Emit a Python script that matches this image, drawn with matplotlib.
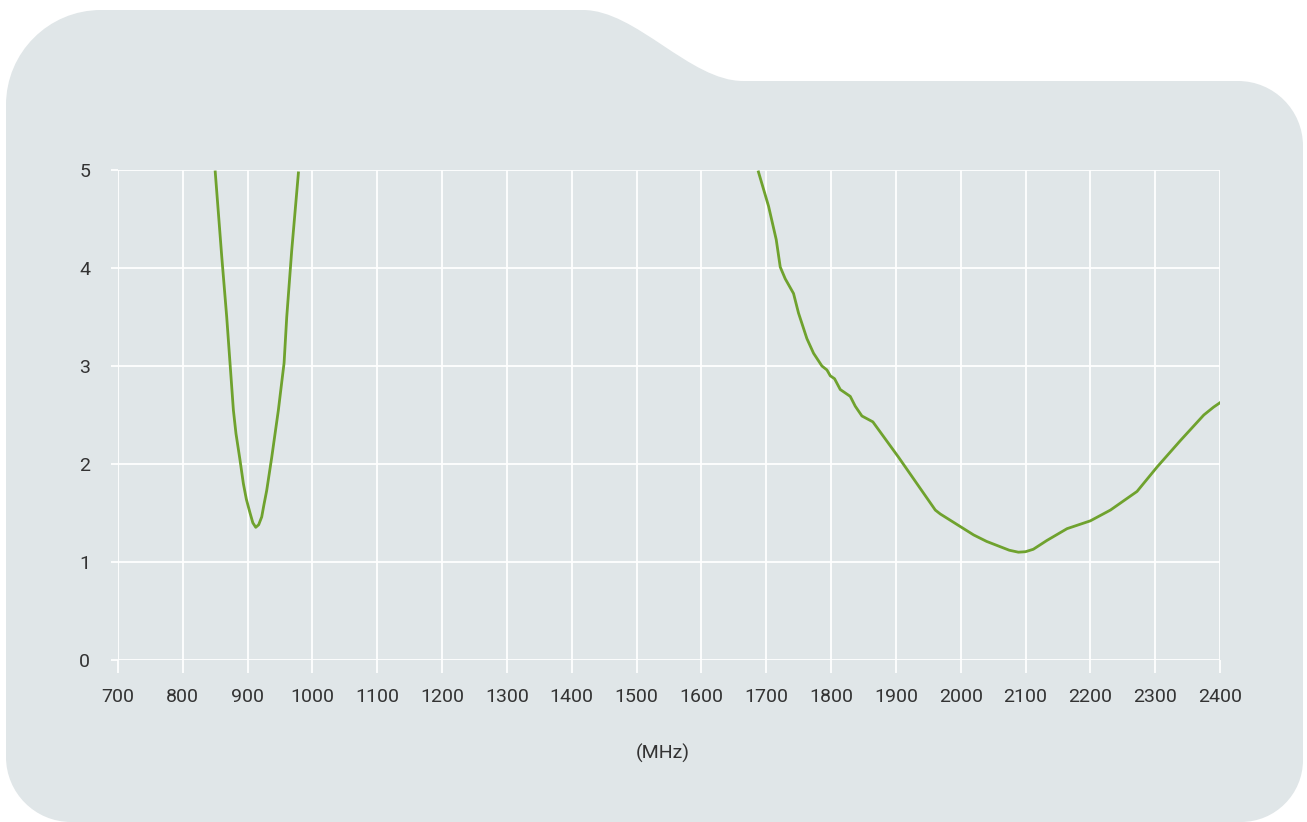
import matplotlib.pyplot as plt
from matplotlib.path import Path
from matplotlib.patches import PathPatch

# band 1 (around 900 MHz)
freq_low = [850, 860, 867.7, 872.8, 878, 882, 888, 893.4, 898, 903.7, 908,
            912.5, 917, 921.7, 925, 929.4, 937.2, 947.4, 953.6, 956.2, 960.3,
            968, 978.3]
vswr_low = [4.98, 4.12, 3.50, 3.03, 2.55, 2.31, 2.05, 1.80, 1.64, 1.50, 1.40,
            1.354, 1.38, 1.46, 1.58, 1.73, 2.07, 2.55, 2.89, 3.03, 3.50,
            4.18, 4.97]

# band 2 (1700-2400 MHz)
freq_high = [1688, 1703.6, 1715.4, 1721.6, 1729.3, 1742.1, 1749.8, 1762.7, 1773,
             1785.9, 1793.6, 1798.8, 1805.4, 1814.2, 1829.6, 1837.3, 1847.6,
             1864.5, 1904, 1960.8, 1968.5, 2020, 2040, 2061, 2075, 2089, 2100,
             2112, 2133, 2164, 2200, 2231, 2272, 2303, 2339, 2375, 2390, 2401]
vswr_high = [4.98, 4.63, 4.29, 4.01, 3.89, 3.74, 3.54, 3.28, 3.13,
             3.00, 2.96, 2.90, 2.87, 2.76, 2.69, 2.59, 2.49,
             2.43, 2.07, 1.53, 1.49, 1.276, 1.21, 1.156, 1.12, 1.10, 1.105,
             1.13, 1.22, 1.34, 1.42, 1.53, 1.72, 1.97, 2.24, 2.50, 2.58, 2.63]

x_ticks = list(range(700, 2401, 100))
y_ticks = [0, 1, 2, 3, 4, 5]

W, H = 1307, 822
BG = "#e0e6e8"
GREEN = "#6fa22e"
TXT = "#333333"

plt.rcParams["font.family"] = ["Roboto", "DejaVu Sans"]

fig = plt.figure(figsize=(W / 100, H / 100), dpi=100, facecolor="white")


def P(x, y):
    return (x / W, 1 - y / H)


# background panel with tab on top
k = 0.5523
verts, codes = [], []


def move(x, y):
    verts.append(P(x, y)); codes.append(Path.MOVETO)


def line(x, y):
    verts.append(P(x, y)); codes.append(Path.LINETO)


def curve(c1, c2, end):
    for p in (c1, c2, end):
        verts.append(P(*p)); codes.append(Path.CURVE4)


move(6, 105)
curve((6, 105 - k * 95), (101 - k * 95, 10), (101, 10))
line(583, 10)
curve((636, 10), (690, 81), (743, 81))
line(1238, 81)
curve((1238 + k * 65, 81), (1303, 146 - k * 65), (1303, 146))
line(1303, 760)
curve((1303, 760 + k * 62), (1241 + k * 62, 822), (1241, 822))
line(71, 822)
curve((71 - k * 65, 822), (6, 757 + k * 65), (6, 757))
line(6, 105)
verts.append(P(6, 105)); codes.append(Path.CLOSEPOLY)
fig.patches.append(PathPatch(Path(verts, codes), facecolor=BG, edgecolor="none",
                             transform=fig.transFigure, zorder=-1))

ax = fig.add_axes([118 / W, 1 - 660 / H, 1102 / W, 490 / H])
ax.set_zorder(1)
ax.set_facecolor("none")
ax.plot(freq_low, vswr_low, color=GREEN, lw=2.0, zorder=3,
        solid_joinstyle="round")
ax.plot(freq_high, vswr_high, color=GREEN, lw=2.0, zorder=3,
        solid_joinstyle="round")

ax.set_xlim(700, 2400)
ax.set_ylim(0, 5)
ax.set_xticks(x_ticks)
ax.set_yticks(y_ticks)
ax.grid(True, color="white", lw=1.3)
ax.set_axisbelow(True)
for s in ax.spines.values():
    s.set_visible(False)
ax.tick_params(axis="x", colors="white", length=9, width=1.3, pad=11,
               labelcolor=TXT, labelsize=14)
ax.tick_params(axis="y", colors="white", length=5, width=1.3, pad=15,
               labelcolor=TXT, labelsize=14)

fig.text(663 / W, 1 - 753 / H, "(MHz)", ha="center", va="center",
         color=TXT, fontsize=14, zorder=2)

fig.savefig("out.png", dpi=100, facecolor="white")
